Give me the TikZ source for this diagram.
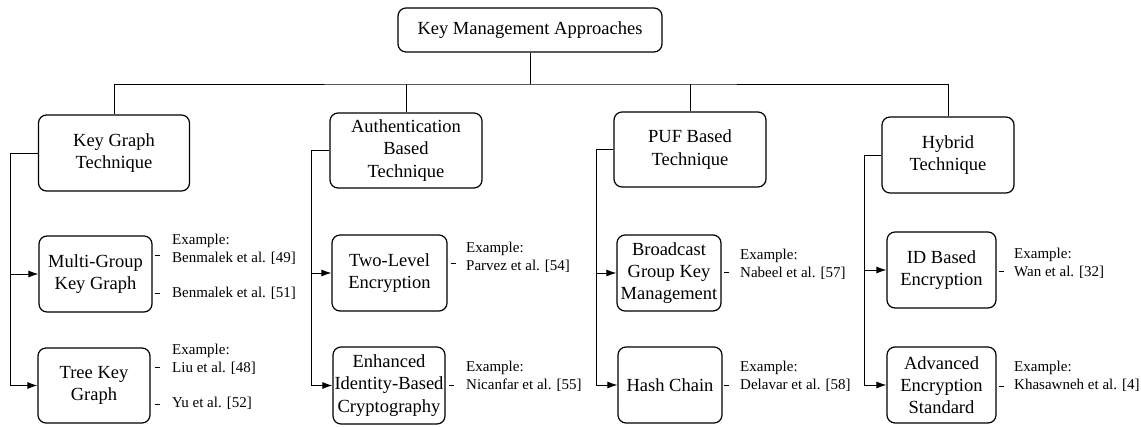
\documentclass[tikz,border=0pt]{standalone}
\usepackage{fontspec}
\setmainfont{Liberation Serif}
\usetikzlibrary{arrows.meta}
\begin{document}
\begin{tikzpicture}[x=1pt,y=-1pt,
  box/.style={draw,line width=1.2pt,rounded corners=8pt,align=center,inner sep=0pt,
    font=\fontsize{18.5}{22.2}\selectfont},
  ex/.style={anchor=west,align=left,inner sep=0pt,font=\fontsize{15}{18}\selectfont},
  conn/.style={line width=1pt},
  arr/.style={line width=1pt,-{Latex[length=10pt,width=7pt]}},
  dsh/.style={line width=1pt}]
\useasboundingbox (0,0) rectangle (1141,426);
% top
\node[box,minimum width=264pt,minimum height=44pt] (top) at (530,30) {Key Management Approaches};
% level 1
\node[box,minimum width=151pt,minimum height=76pt] (kg) at (114,153) {Key Graph\\Technique};
\node[box,minimum width=152pt,minimum height=75pt] (au) at (406,150.5) {Authentication\\Based\\Technique};
\node[box,minimum width=152pt,minimum height=75pt] (puf) at (690,149.5) {PUF Based\\Technique};
\node[box,minimum width=132pt,minimum height=76pt] (hy) at (948,155) {Hybrid\\Technique};
% level 2
\node[box,minimum width=113pt,minimum height=76pt] (mg) at (95.5,274) {Multi-Group\\Key Graph};
\node[box,minimum width=112pt,minimum height=75pt] (tk) at (94,385.5) {Tree Key\\Graph};
\node[box,minimum width=115pt,minimum height=76pt] (tl) at (389.5,273) {Two-Level\\Encryption};
\node[box,minimum width=112pt,minimum height=77pt] (ei) at (389,385.5) {Enhanced\\Identity-Based\\Cryptography};
\node[box,minimum width=104pt,minimum height=76pt] (bg) at (669,273) {Broadcast\\Group Key\\Management};
\node[box,minimum width=104pt,minimum height=76pt] (hc) at (670,385) {Hash Chain};
\node[box,minimum width=109pt,minimum height=76pt] (id) at (941.5,270) {ID Based\\Encryption};
\node[box,minimum width=109pt,minimum height=76pt] (aes) at (941.5,385) {Advanced\\Encryption\\Standard};
% bus
\coordinate (bus) at (530,84);
\draw[conn] (top.south) -- (bus);
\draw[conn] (kg.north) |- (bus) -| (hy.north);
\draw[conn] (au.north) -- (au.north |- bus);
\draw[conn] (puf.north) -- (puf.north |- bus);
% trunks
\coordinate (t1) at (10,0);
\coordinate (t2) at (311,0);
\coordinate (t3) at (596,0);
\coordinate (t4) at (864,0);
\draw[conn] (kg.west) -| (t1 |- mg.west);
\draw[arr] (kg.west) -| (t1 |- tk.west) -- (tk.west);
\draw[arr] (t1 |- mg.west) -- (mg.west);
\draw[arr] (au.west) -| (t2 |- ei.west) -- (ei.west);
\draw[arr] (t2 |- tl.west) -- (tl.west);
\draw[arr] (puf.west) -| (t3 |- hc.west) -- (hc.west);
\draw[arr] (t3 |- bg.west) -- (bg.west);
\draw[arr] (hy.west) -| (t4 |- aes.west) -- (aes.west);
\draw[arr] (t4 |- id.west) -- (id.west);
% examples
\node[ex] (e1) at (172,249) {Example:\\Benmalek et al. [49]};
\node[ex] (e2) at (172,293) {Benmalek et al. [51]};
\node[ex] (e3) at (172,359) {Example:\\Liu et al. [48]};
\node[ex] (e4) at (172,403) {Yu et al. [52]};
\node[ex] (e5) at (466,257) {Example:\\Parvez et al. [54]};
\node[ex] (e6) at (466,376) {Example:\\Nicanfar et al. [55]};
\node[ex] (e7) at (740,264) {Example:\\Nabeel et al. [57]};
\node[ex] (e8) at (740,376) {Example:\\Delavar et al. [58]};
\node[ex] (e9) at (1014,263) {Example:\\Wan et al. [32]};
\node[ex] (e10) at (1014,376) {Example:\\Khasawneh et al. [4]};
% dashes
\draw[dsh] (155,255) -- (160,255);
\draw[dsh] (155,293) -- (160,293);
\draw[dsh] (155,367) -- (160,367);
\draw[dsh] (155,404) -- (160,404);
\draw[dsh] (451,263) -- (456,263);
\draw[dsh] (449,385) -- (454,385);
\draw[dsh] (724,272) -- (729,272);
\draw[dsh] (724,385) -- (729,385);
\draw[dsh] (999,271) -- (1004,271);
\draw[dsh] (999,386) -- (1004,386);
\end{tikzpicture}
\end{document}
